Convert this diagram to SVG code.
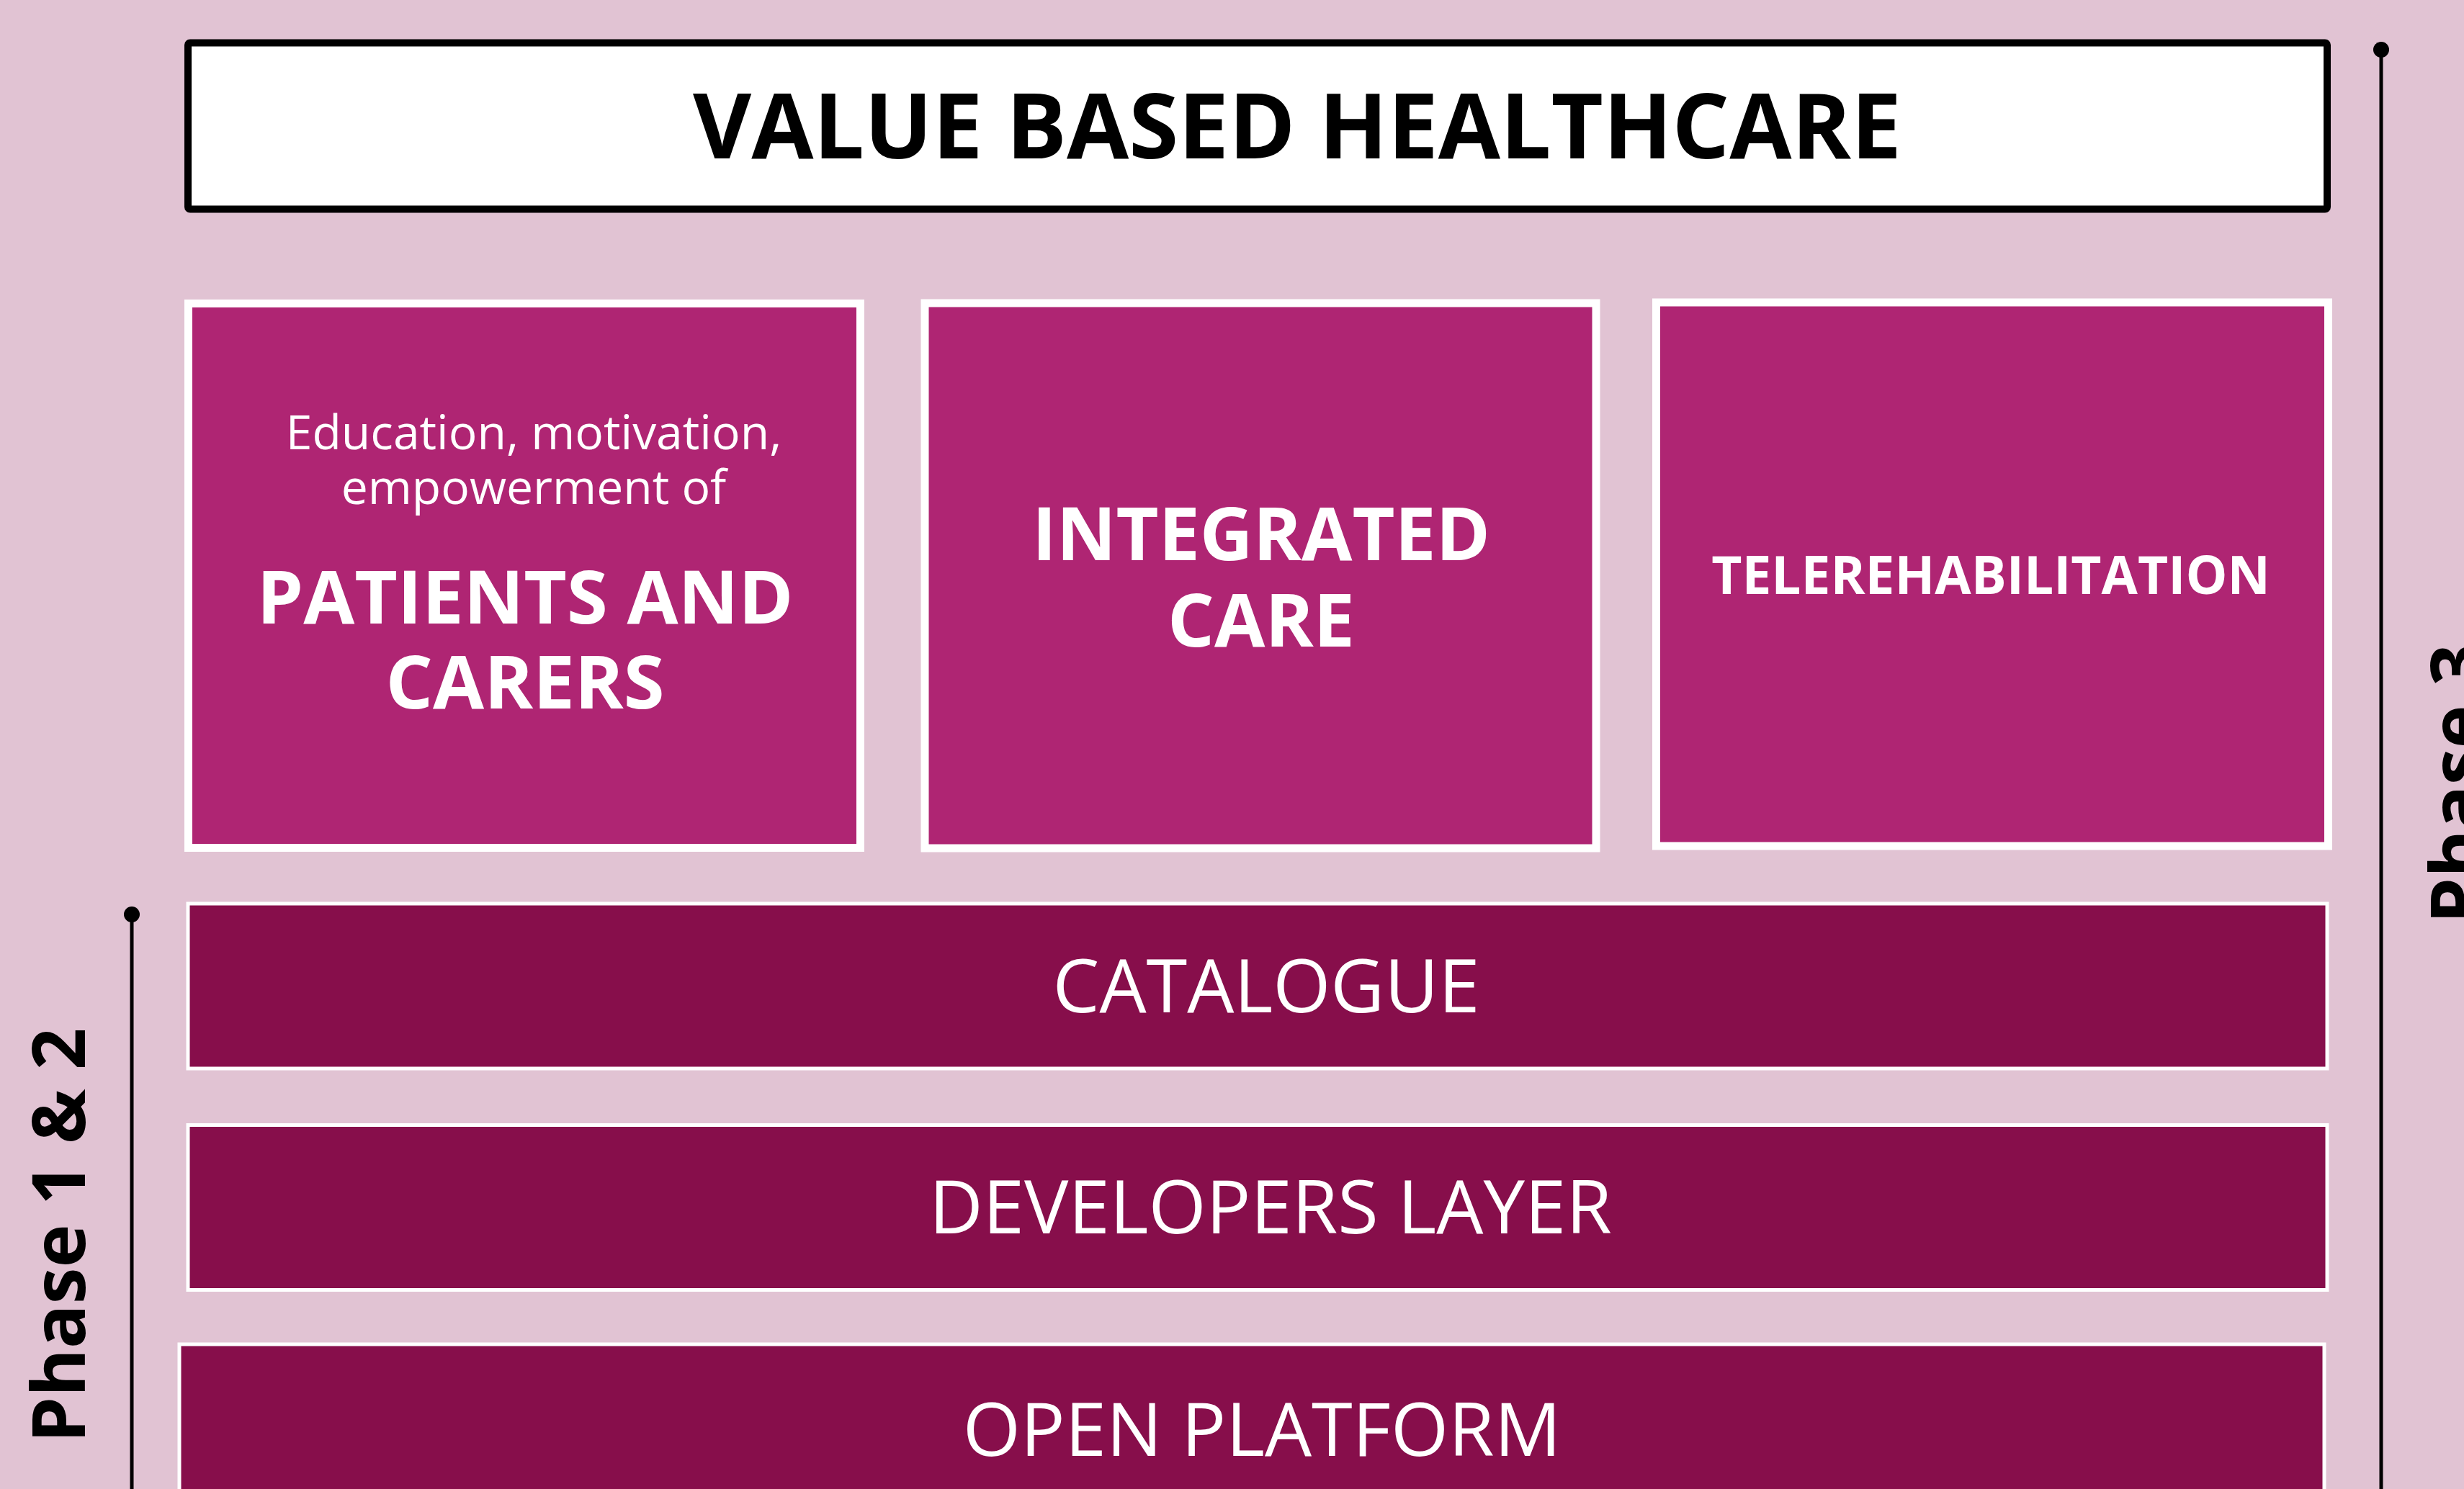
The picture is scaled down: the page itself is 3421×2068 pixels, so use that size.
<svg xmlns="http://www.w3.org/2000/svg" width="3421" height="2068" viewBox="0 0 3421 2068">
<style>
text{font-family:"Open Sans","Noto Sans","Liberation Sans",sans-serif;text-anchor:middle}
.t{fill:#000;font-weight:700;font-size:125px}
.box{fill:#AF2573;stroke:#fff;stroke-width:11}
.bar{fill:#870E4B;stroke:#fff;stroke-width:5}
.w{fill:#fff}
.b{font-weight:700}
.ph{fill:#000;font-weight:700;font-size:102px;text-anchor:start}
.line{stroke:#000;stroke-width:5;fill:none}
</style>
<rect x="0" y="0" width="3421" height="2068" fill="#E1C3D3"/>
<g id="title">
<rect x="261" y="59.5" width="2970" height="231" rx="3" fill="#fff" stroke="#000" stroke-width="10"/>
<text class="t" x="1801" y="220">VALUE BASED HEALTHCARE</text>
</g>
<g id="patients">
<rect class="box" x="261.5" y="421.5" width="933" height="756"/>
<text class="w" x="741" y="624" font-size="66">Education, motivation,</text>
<text class="w" x="741" y="700" font-size="66">empowerment of</text>
<text class="w b" x="729" y="866" font-size="103">PATIENTS AND</text>
<text class="w b" x="729" y="984" font-size="103">CARERS</text>
</g>
<g id="integrated">
<rect class="box" x="1284" y="421" width="932" height="757"/>
<text class="w b" x="1751" y="778" font-size="102">INTEGRATED</text>
<text class="w b" x="1751" y="898" font-size="102">CARE</text>
</g>
<g id="telerehab">
<rect class="box" x="2299.5" y="420" width="933" height="755"/>
<text class="w b" x="2764" y="825" font-size="73">TELEREHABILITATION</text>
</g>
<g id="catalogue">
<rect class="bar" x="261" y="1255" width="2970" height="229"/>
<text class="w" x="1758" y="1406" font-size="103">CATALOGUE</text>
</g>
<g id="developers">
<rect class="bar" x="261" y="1562.5" width="2970" height="229"/>
<text class="w" x="1764" y="1713" font-size="103">DEVELOPERS LAYER</text>
</g>
<g id="platform">
<rect class="bar" x="249" y="1867" width="2978" height="300"/>
<text class="w" x="1752" y="2022" font-size="103">OPEN PLATFORM</text>
</g>
<g id="connectors">
<line class="line" x1="183" y1="1270" x2="183" y2="2068"/>
<circle cx="183" cy="1270" r="11" fill="#000"/>
<line class="line" x1="3306" y1="69" x2="3306" y2="2068"/>
<circle cx="3306" cy="69" r="11" fill="#000"/>
</g>
<g id="phase12">
<text class="ph" transform="translate(118,2004) rotate(-90)">Phase 1 &amp; 2</text>
</g>
<g id="phase3">
<text class="ph" transform="translate(3448,1283) rotate(-90)">Phase 3</text>
</g>
</svg>
